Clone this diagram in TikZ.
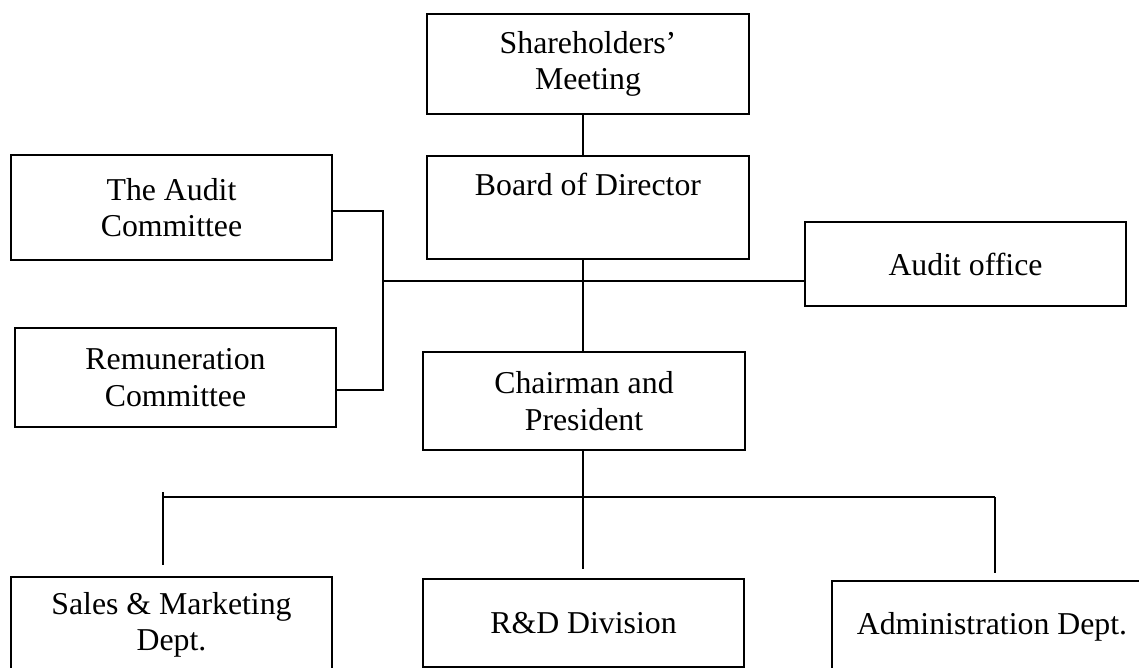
\documentclass[tikz,border=0pt]{standalone}
\usepackage{fontspec}
\setmainfont{Liberation Serif}
\usetikzlibrary{calc}

\begin{document}
\begin{tikzpicture}[x=1pt, y=-1pt, line width=2pt,
    orgbox/.style={draw, align=center, inner sep=0pt, font=\fontsize{31.8}{36.3}\selectfont}]

    \clip (0,0) rectangle (1139,668);

    % boxes
    \node[orgbox, minimum width=322, minimum height=100] (share) at (588,64) {Shareholders’\\Meeting};
    \node[orgbox, minimum width=322, minimum height=103] (board) at (588,207.5) {Board of Director\\\strut};
    \node[orgbox, minimum width=321, minimum height=105] (audcom) at (171.5,207.5) {The Audit\\Committee};
    \node[orgbox, minimum width=321, minimum height=99] (remun) at (175.5,377.5) {Remuneration\\Committee};
    \node[orgbox, minimum width=321, minimum height=84] (auditoff) at (965.5,264) {Audit office};
    \node[orgbox, minimum width=322, minimum height=98] (chair) at (584,401) {Chairman and\\President};
    \node[orgbox, minimum width=321, minimum height=95] (sales) at (171.5,624.5) {Sales \& Marketing\\Dept.};
    \node[orgbox, minimum width=321, minimum height=88] (rnd) at (583.5,623) {R\&D Division};
    \node[orgbox, minimum width=320, minimum height=91] (admin) at (992,626.5) {Administration Dept.};

    % junction points
    \coordinate (spine) at (583,281);
    \coordinate (bracket) at (383,281);
    \coordinate (audtee) at (383,211);
    \coordinate (remtee) at (383,390);
    \coordinate (bus) at (583,497);
    \coordinate (busleft) at (163,497);
    \coordinate (busright) at (995,497);
    \coordinate (salestop) at (163,565);
    \coordinate (rndtop) at (583,569);
    \coordinate (admintop) at (995,573);

    % connectors
    \draw (share.south -| spine) -- (board.north -| spine);
    \draw (board.south -| spine) -- (chair.north -| spine);
    \draw (audcom.east |- audtee) -- (audtee) -- (remtee) -- (remun.east |- remtee);
    \draw (bracket) -- (auditoff.west |- bracket);
    \draw (chair.south -| spine) -- (rndtop);
    \draw (busleft) -- (busright);
    \draw ($(busleft)+(0,-5)$) -- (salestop);
    \draw (busright) -- (admintop);

\end{tikzpicture}
\end{document}
